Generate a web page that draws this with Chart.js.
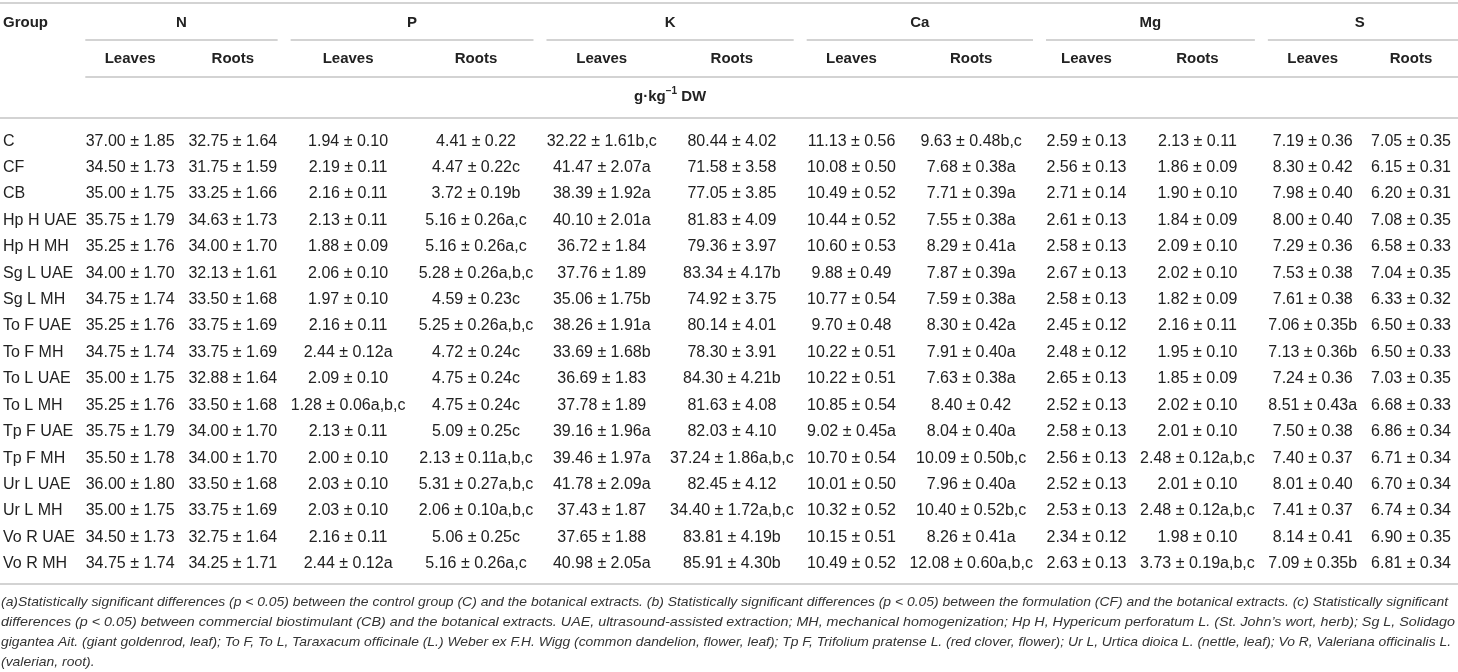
<!DOCTYPE html>
<html>
<head>
<meta charset="utf-8">
<script src="https://cdn.jsdelivr.net/npm/chart.js@4.4.1/dist/chart.umd.min.js"></script>
<style>
  html, body { margin: 0; padding: 0; background: #fff; }
  #wrap { width: 1458px; height: 672px; position: relative; }
</style>
</head>
<body>
<div id="wrap"><canvas id="mineralTable"></canvas></div>
<script>
// rows of the table
const groups = ["C", "CF", "CB", "Hp H UAE", "Hp H MH", "Sg L UAE", "Sg L MH", "To F UAE", "To F MH",
  "To L UAE", "To L MH", "Tp F UAE", "Tp F MH", "Ur L UAE", "Ur L MH", "Vo R UAE", "Vo R MH"];
const elements = ["N", "P", "K", "Ca", "Mg", "S"];
const organs = ["Leaves", "Roots"];

// mean ± SD (g·kg−1 DW) with significance letters
const nLeaves = ["37.00 ± 1.85", "34.50 ± 1.73", "35.00 ± 1.75", "35.75 ± 1.79", "35.25 ± 1.76", "34.00 ± 1.70",
  "34.75 ± 1.74", "35.25 ± 1.76", "34.75 ± 1.74", "35.00 ± 1.75", "35.25 ± 1.76", "35.75 ± 1.79", "35.50 ± 1.78",
  "36.00 ± 1.80", "35.00 ± 1.75", "34.50 ± 1.73", "34.75 ± 1.74"];
const nRoots = ["32.75 ± 1.64", "31.75 ± 1.59", "33.25 ± 1.66", "34.63 ± 1.73", "34.00 ± 1.70", "32.13 ± 1.61",
  "33.50 ± 1.68", "33.75 ± 1.69", "33.75 ± 1.69", "32.88 ± 1.64", "33.50 ± 1.68", "34.00 ± 1.70", "34.00 ± 1.70",
  "33.50 ± 1.68", "33.75 ± 1.69", "32.75 ± 1.64", "34.25 ± 1.71"];
const pLeaves = ["1.94 ± 0.10", "2.19 ± 0.11", "2.16 ± 0.11", "2.13 ± 0.11", "1.88 ± 0.09", "2.06 ± 0.10",
  "1.97 ± 0.10", "2.16 ± 0.11", "2.44 ± 0.12a", "2.09 ± 0.10", "1.28 ± 0.06a,b,c", "2.13 ± 0.11", "2.00 ± 0.10",
  "2.03 ± 0.10", "2.03 ± 0.10", "2.16 ± 0.11", "2.44 ± 0.12a"];
const pRoots = ["4.41 ± 0.22", "4.47 ± 0.22c", "3.72 ± 0.19b", "5.16 ± 0.26a,c", "5.16 ± 0.26a,c", "5.28 ± 0.26a,b,c",
  "4.59 ± 0.23c", "5.25 ± 0.26a,b,c", "4.72 ± 0.24c", "4.75 ± 0.24c", "4.75 ± 0.24c", "5.09 ± 0.25c",
  "2.13 ± 0.11a,b,c", "5.31 ± 0.27a,b,c", "2.06 ± 0.10a,b,c", "5.06 ± 0.25c", "5.16 ± 0.26a,c"];
const kLeaves = ["32.22 ± 1.61b,c", "41.47 ± 2.07a", "38.39 ± 1.92a", "40.10 ± 2.01a", "36.72 ± 1.84", "37.76 ± 1.89",
  "35.06 ± 1.75b", "38.26 ± 1.91a", "33.69 ± 1.68b", "36.69 ± 1.83", "37.78 ± 1.89", "39.16 ± 1.96a",
  "39.46 ± 1.97a", "41.78 ± 2.09a", "37.43 ± 1.87", "37.65 ± 1.88", "40.98 ± 2.05a"];
const kRoots = ["80.44 ± 4.02", "71.58 ± 3.58", "77.05 ± 3.85", "81.83 ± 4.09", "79.36 ± 3.97", "83.34 ± 4.17b",
  "74.92 ± 3.75", "80.14 ± 4.01", "78.30 ± 3.91", "84.30 ± 4.21b", "81.63 ± 4.08", "82.03 ± 4.10",
  "37.24 ± 1.86a,b,c", "82.45 ± 4.12", "34.40 ± 1.72a,b,c", "83.81 ± 4.19b", "85.91 ± 4.30b"];
const caLeaves = ["11.13 ± 0.56", "10.08 ± 0.50", "10.49 ± 0.52", "10.44 ± 0.52", "10.60 ± 0.53", "9.88 ± 0.49",
  "10.77 ± 0.54", "9.70 ± 0.48", "10.22 ± 0.51", "10.22 ± 0.51", "10.85 ± 0.54", "9.02 ± 0.45a", "10.70 ± 0.54",
  "10.01 ± 0.50", "10.32 ± 0.52", "10.15 ± 0.51", "10.49 ± 0.52"];
const caRoots = ["9.63 ± 0.48b,c", "7.68 ± 0.38a", "7.71 ± 0.39a", "7.55 ± 0.38a", "8.29 ± 0.41a", "7.87 ± 0.39a",
  "7.59 ± 0.38a", "8.30 ± 0.42a", "7.91 ± 0.40a", "7.63 ± 0.38a", "8.40 ± 0.42", "8.04 ± 0.40a",
  "10.09 ± 0.50b,c", "7.96 ± 0.40a", "10.40 ± 0.52b,c", "8.26 ± 0.41a", "12.08 ± 0.60a,b,c"];
const mgLeaves = ["2.59 ± 0.13", "2.56 ± 0.13", "2.71 ± 0.14", "2.61 ± 0.13", "2.58 ± 0.13", "2.67 ± 0.13",
  "2.58 ± 0.13", "2.45 ± 0.12", "2.48 ± 0.12", "2.65 ± 0.13", "2.52 ± 0.13", "2.58 ± 0.13", "2.56 ± 0.13",
  "2.52 ± 0.13", "2.53 ± 0.13", "2.34 ± 0.12", "2.63 ± 0.13"];
const mgRoots = ["2.13 ± 0.11", "1.86 ± 0.09", "1.90 ± 0.10", "1.84 ± 0.09", "2.09 ± 0.10", "2.02 ± 0.10",
  "1.82 ± 0.09", "2.16 ± 0.11", "1.95 ± 0.10", "1.85 ± 0.09", "2.02 ± 0.10", "2.01 ± 0.10", "2.48 ± 0.12a,b,c",
  "2.01 ± 0.10", "2.48 ± 0.12a,b,c", "1.98 ± 0.10", "3.73 ± 0.19a,b,c"];
const sLeaves = ["7.19 ± 0.36", "8.30 ± 0.42", "7.98 ± 0.40", "8.00 ± 0.40", "7.29 ± 0.36", "7.53 ± 0.38",
  "7.61 ± 0.38", "7.06 ± 0.35b", "7.13 ± 0.36b", "7.24 ± 0.36", "8.51 ± 0.43a", "7.50 ± 0.38", "7.40 ± 0.37",
  "8.01 ± 0.40", "7.41 ± 0.37", "8.14 ± 0.41", "7.09 ± 0.35b"];
const sRoots = ["7.05 ± 0.35", "6.15 ± 0.31", "6.20 ± 0.31", "7.08 ± 0.35", "6.58 ± 0.33", "7.04 ± 0.35",
  "6.33 ± 0.32", "6.50 ± 0.33", "6.50 ± 0.33", "7.03 ± 0.35", "6.68 ± 0.33", "6.86 ± 0.34", "6.71 ± 0.34",
  "6.70 ± 0.34", "6.74 ± 0.34", "6.90 ± 0.35", "6.81 ± 0.34"];

const notes = [
  "(a)Statistically significant differences (p < 0.05) between the control group (C) and the botanical extracts. (b) Statistically significant differences (p < 0.05) between the formulation (CF) and the botanical extracts. (c) Statistically significant",
  "differences (p < 0.05) between commercial biostimulant (CB) and the botanical extracts. UAE, ultrasound-assisted extraction; MH, mechanical homogenization; Hp H, Hypericum perforatum L. (St. John\u2019s wort, herb); Sg L, Solidago",
  "gigantea Ait. (giant goldenrod, leaf); To F, To L, Taraxacum officinale (L.) Weber ex F.H. Wigg (common dandelion, flower, leaf); Tp F, Trifolium pratense L. (red clover, flower); Ur L, Urtica dioica L. (nettle, leaf); Vo R, Valeriana officinalis L.",
  "(valerian, root)."
];
// right end of each footnote line in the source layout
const noteEnds = [1448, 1455, 1451];

const columns = [nLeaves, nRoots, pLeaves, pRoots, kLeaves, kRoots, caLeaves, caRoots, mgLeaves, mgRoots, sLeaves, sRoots];

// look
const FACE = '"Liberation Sans", Arial, Helvetica, sans-serif';
const CELL_FONT = "16px " + FACE;
const HEAD_FONT = "bold 15px " + FACE;
const NOTE_FONT = "italic 13.5px " + FACE;
const INK = "#222";
const NOTE_INK = "#333";
const RULE = "#c4c4c4";
const PAGE_W = 1458;

// column widths follow their content, like an auto-layout html table
const meter = document.createElement("canvas").getContext("2d");
function textW(font, s) { meter.font = font; return meter.measureText(s).width; }

const labelW = Math.max(...groups.map(g => textW(CELL_FONT, g)), textW(HEAD_FONT, "Group")) + 5;
let colW = columns.map(col => Math.max(...col.map(s => textW(CELL_FONT, s)), textW(HEAD_FONT, "Leaves")) + 16);
const fill = (PAGE_W - labelW) / colW.reduce((a, b) => a + b, 0);
colW = colW.map(w => w * fill);
const colLeft = [];
colW.reduce((acc, w, i) => { colLeft[i] = acc; return acc + w; }, labelW);
const colMid = colLeft.map((l, i) => l + colW[i] / 2);

const tablePlugin = {
  id: "tableText",
  afterDatasetsDraw(chart) {
    const ctx = chart.ctx;
    const xs = chart.scales.x;
    const ys = chart.scales.y;
    const area = chart.chartArea;
    const px = v => xs.getPixelForValue(v);

    ctx.save();
    // horizontal rules
    ctx.strokeStyle = RULE;
    ctx.lineWidth = 1.5;
    const hline = (x1, x2, y) => { ctx.beginPath(); ctx.moveTo(x1, y); ctx.lineTo(x2, y); ctx.stroke(); };
    hline(0, PAGE_W, 3);
    elements.forEach((el, g) => {
      const l = px(colLeft[g * 2]) + 6.5;
      const r = g === elements.length - 1 ? PAGE_W : px(colLeft[g * 2 + 1] + colW[g * 2 + 1]) - 6.5;
      hline(l, r, 40);
    });
    hline(px(colLeft[0]) + 6.5, PAGE_W, 77);
    hline(0, PAGE_W, area.top - 10);
    hline(0, PAGE_W, area.bottom + 7);

    // header text
    ctx.fillStyle = INK;
    ctx.textBaseline = "middle";
    ctx.font = HEAD_FONT;
    ctx.textAlign = "left";
    ctx.fillText("Group", 3, 23);
    ctx.textAlign = "center";
    elements.forEach((el, g) => {
      const l = colLeft[g * 2], r = colLeft[g * 2 + 1] + colW[g * 2 + 1];
      ctx.fillText(el, px((l + r) / 2), 23);
    });
    columns.forEach((col, k) => ctx.fillText(organs[k % 2], px(colMid[k]), 59));

    // unit line with superscript, centred over N..Mg
    const uMid = px((colLeft[0] + colLeft[10]) / 2);
    const SUP_FONT = "bold 10px " + FACE;
    const a = "g\u00b7kg", sup = "\u22121", b = " DW";
    const wa = textW(HEAD_FONT, a), ws = textW(SUP_FONT, sup), wb = textW(HEAD_FONT, b);
    let ux = uMid - (wa + ws + wb) / 2;
    ctx.textAlign = "left";
    ctx.font = HEAD_FONT; ctx.fillText(a, ux, 97); ux += wa;
    ctx.font = SUP_FONT; ctx.fillText(sup, ux, 91); ux += ws;
    ctx.font = HEAD_FONT; ctx.fillText(b, ux, 97);

    // cells, placed on the points of each column dataset
    ctx.font = CELL_FONT;
    ctx.textAlign = "center";
    chart.data.datasets.forEach((ds, k) => {
      chart.getDatasetMeta(k).data.forEach((pt, i) => ctx.fillText(columns[k][i], pt.x, pt.y));
    });
    ctx.textAlign = "left";
    groups.forEach((g, i) => ctx.fillText(g, 3, ys.getPixelForValue(i)));

    // footnote
    ctx.font = NOTE_FONT;
    ctx.fillStyle = NOTE_INK;
    const squeeze = noteEnds.map((end, i) => (end - 1) / textW(NOTE_FONT, notes[i]));
    notes.forEach((line, i) => {
      const sx = i < squeeze.length ? squeeze[i] : squeeze[0];
      ctx.save();
      ctx.translate(1, area.bottom + 25 + i * 20);
      ctx.scale(sx, 1);
      ctx.fillText(line, 0, 0);
      ctx.restore();
    });
    ctx.restore();
  }
};

new Chart(document.getElementById("mineralTable"), {
  type: "scatter",
  data: {
    datasets: columns.map((col, k) => ({
      label: elements[Math.floor(k / 2)] + " " + organs[k % 2],
      data: groups.map(g => ({ x: colMid[k], y: g })),
      pointRadius: 0
    }))
  },
  options: {
    responsive: true,
    maintainAspectRatio: false,
    animation: false,
    events: [],
    layout: { padding: { top: 128, bottom: 95, left: 0, right: 0 } },
    scales: {
      x: { type: "linear", min: 0, max: PAGE_W, display: false },
      y: { type: "category", labels: groups, offset: true, display: false }
    },
    plugins: { legend: { display: false }, tooltip: { enabled: false } }
  },
  plugins: [tablePlugin]
});
</script>
</body>
</html>
